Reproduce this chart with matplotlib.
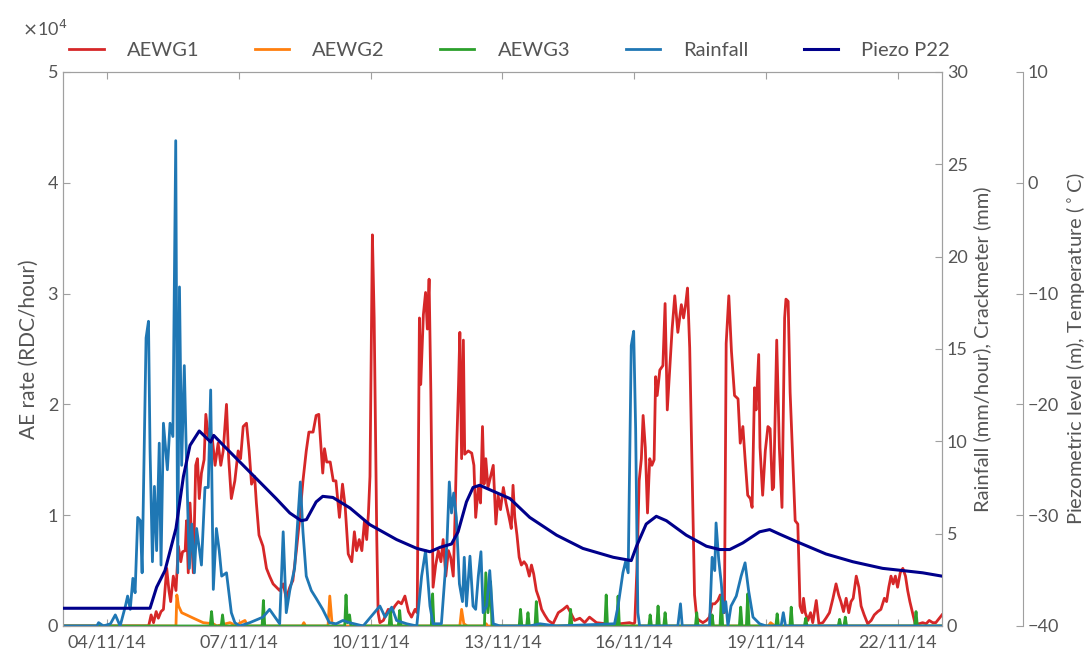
import matplotlib
matplotlib.use('Agg')
import matplotlib.pyplot as plt
import matplotlib.dates as mdates
import pandas as pd

plt.rcParams['font.family'] = ['Lato', 'DejaVu Sans']

start = pd.Timestamp('2014-11-03')

# AE rate, in units of 1e4 RDC/hour. times are days after 03/11/14 00:00
g1_days = [0, 1.945, 1.96, 2.005, 2.06, 2.12, 2.17, 2.23, 2.285, 2.36, 2.41, 2.45, 2.51, 2.57, 2.625,
           2.68, 2.72, 2.78, 2.81, 2.85, 2.89, 2.965, 3.02, 3.06, 3.10, 3.15, 3.21, 3.25, 3.305, 3.34,
           3.40, 3.46, 3.53, 3.59, 3.645, 3.72, 3.77, 3.83, 3.91, 3.985, 4.04, 4.10, 4.175, 4.235, 4.29,
           4.36, 4.40, 4.46, 4.55, 4.63, 4.70, 4.78, 4.855, 4.93, 5.01, 5.08, 5.16, 5.23, 5.31, 5.38,
           5.46, 5.535, 5.595, 5.69, 5.76, 5.82, 5.875, 5.91, 5.95, 6.00, 6.08, 6.15, 6.21, 6.29, 6.36,
           6.42, 6.49, 6.57, 6.63, 6.68, 6.74, 6.80, 6.86, 6.91, 6.95, 6.985, 7.04, 7.08, 7.14, 7.17,
           7.21, 7.29, 7.40, 7.48, 7.55, 7.63, 7.70, 7.78, 7.86, 7.93, 8.01, 8.06, 8.11, 8.14, 8.20,
           8.25, 8.29, 8.33, 8.37, 8.42, 8.48, 8.54, 8.60, 8.65, 8.71, 8.77, 8.82, 8.88, 8.92, 8.95,
           9.00, 9.03, 9.07, 9.11, 9.14, 9.22, 9.30, 9.35, 9.39, 9.45, 9.50, 9.545, 9.58, 9.62, 9.67,
           9.73, 9.79, 9.85, 9.90, 9.955, 10.02, 10.08, 10.15, 10.20, 10.24, 10.28, 10.33, 10.38, 10.43,
           10.49, 10.545, 10.61, 10.66, 10.71, 10.77, 10.83, 10.89, 10.96, 11.04, 11.15, 11.27, 11.38,
           11.47, 11.55, 11.64, 11.76, 11.87, 11.98, 12.14, 12.36, 12.52, 12.67, 12.89, 12.97, 13.01,
           13.06, 13.11, 13.16, 13.20, 13.25, 13.30, 13.35, 13.40, 13.45, 13.485, 13.52, 13.58, 13.65,
           13.70, 13.75, 13.80, 13.86, 13.92, 13.99, 14.07, 14.12, 14.17, 14.21, 14.26, 14.32, 14.37,
           14.42, 14.48, 14.56, 14.64, 14.71, 14.77, 14.83, 14.90, 14.955, 15.015, 15.05, 15.09, 15.15,
           15.21, 15.28, 15.36, 15.41, 15.47, 15.52, 15.58, 15.64, 15.68, 15.735, 15.77, 15.83, 15.86,
           15.92, 15.98, 16.04, 16.09, 16.14, 16.17, 16.24, 16.30, 16.36, 16.42, 16.45, 16.50, 16.545,
           16.61, 16.66, 16.72, 16.77, 16.82, 16.85, 16.89, 16.95, 17.01, 17.06, 17.14, 17.20, 17.29,
           17.36, 17.44, 17.52, 17.59, 17.65, 17.70, 17.76, 17.82, 17.88, 17.93, 17.98, 18.05, 18.11,
           18.16, 18.23, 18.31, 18.39, 18.46, 18.54, 18.61, 18.69, 18.74, 18.79, 18.84, 18.89, 18.94,
           18.99, 19.05, 19.11, 19.17, 19.22, 19.27, 19.33, 19.39, 19.48, 19.56, 19.64, 19.71, 19.79,
           19.86, 19.94, 20.0]
g1_vals = [0, 0, 0.02, 0.10, 0.03, 0.13, 0.07, 0.13, 0.15, 0.52, 0.32, 0.22, 0.45, 0.32, 0.72,
           0.58, 0.67, 0.68, 0.95, 0.48, 1.11, 0.48, 1.45, 1.51, 1.15, 1.38, 1.50, 1.91, 1.71, 1.78,
           1.68, 1.45, 1.65, 1.45, 1.58, 2.00, 1.51, 1.15, 1.31, 1.58, 1.51, 1.80, 1.83, 1.58, 1.28,
           1.35, 1.11, 0.82, 0.72, 0.52, 0.45, 0.38, 0.35, 0.32, 0.38, 0.25, 0.35, 0.41, 0.68, 0.95,
           1.31, 1.58, 1.75, 1.75, 1.90, 1.91, 1.58, 1.38, 1.60, 1.48, 1.48, 1.31, 1.31, 0.98, 1.28,
           1.08, 0.65, 0.58, 0.85, 0.68, 0.78, 0.68, 0.95, 0.78, 1.02, 1.35, 3.53, 2.78, 0.78, 0.12,
           0.03, 0.05, 0.15, 0.13, 0.18, 0.22, 0.20, 0.27, 0.13, 0.08, 0.15, 0.12, 2.78, 2.18, 2.81,
           3.01, 2.68, 3.13, 2.11, 0.35, 0.55, 0.68, 0.58, 0.78, 0.45, 0.68, 0.62, 0.45, 0.98, 1.51,
           2.18, 2.65, 1.51, 2.58, 1.55, 1.58, 1.56, 1.45, 0.98, 1.25, 1.11, 1.80, 1.28, 1.51, 1.25,
           1.35, 1.45, 0.92, 1.18, 1.05, 1.25, 1.11, 0.98, 0.88, 1.27, 0.98, 0.82, 0.62, 0.55,
           0.58, 0.55, 0.45, 0.55, 0.47, 0.32, 0.25, 0.15, 0.10, 0.05, 0.02, 0.12, 0.15,
           0.18, 0.12, 0.05, 0.07, 0.03, 0.08, 0.03, 0.02, 0.0, 0.02, 0.03, 0.02, 0.03,
           0.52, 1.31, 1.51, 1.90, 1.61, 1.02, 1.51, 1.45, 1.50, 2.25, 2.08, 2.31, 2.35,
           2.91, 1.95, 2.28, 2.68, 2.98, 2.65, 2.90, 2.78, 2.91, 3.05, 2.51, 1.28, 0.28,
           0.07, 0.05, 0.03, 0.05, 0.08, 0.20, 0.20, 0.23, 0.28, 0.15, 0.12, 2.55, 2.98,
           2.48, 2.08, 2.05, 1.65, 1.80, 1.51, 1.18, 1.15, 1.07, 2.15, 1.95, 2.45, 1.61,
           1.18, 1.58, 1.80, 1.78, 1.23, 1.25, 2.58, 1.61, 1.07, 2.78, 2.95, 2.93, 2.11,
           1.45, 0.95, 0.92, 0.18, 0.12, 0.25, 0.12, 0.05, 0.12, 0.03, 0.23, 0.02, 0.03,
           0.07, 0.12, 0.25, 0.38, 0.28, 0.22, 0.13, 0.25, 0.12, 0.22, 0.25, 0.45, 0.35,
           0.18, 0.10, 0.02, 0.05, 0.10, 0.13, 0.15, 0.25, 0.22, 0.35, 0.45, 0.38, 0.45,
           0.35, 0.48, 0.52, 0.45, 0.32, 0.22, 0.12, 0.02, 0.02, 0.03, 0.02, 0.05, 0.03,
           0.03, 0.07, 0.10]

g2_days = [0, 2.57, 2.59, 2.63, 2.70, 2.81, 2.97, 3.19, 3.42, 3.50, 3.80, 3.85, 3.90, 4.14, 4.20,
           5.44, 5.48, 5.52, 6.03, 6.07, 6.12, 6.20, 9.03, 9.07, 9.12, 9.20, 9.60, 9.63, 9.66,
           16.05, 16.10, 16.20, 20.0]
g2_vals = [0, 0, 0.28, 0.18, 0.12, 0.10, 0.07, 0.03, 0.02, 0, 0.03, 0.02, 0, 0.05, 0,
           0, 0.03, 0, 0, 0.27, 0.03, 0, 0, 0.15, 0.02, 0, 0, 0.02, 0,
           0, 0.03, 0, 0]

g3_days = [0, 3.35, 3.38, 3.41, 3.60, 3.63, 3.66, 4.53, 4.56, 4.59, 6.41, 6.44, 6.47, 6.52, 6.55,
           7.42, 7.45, 7.48, 7.63, 7.66, 7.69, 8.38, 8.41, 8.44, 9.59, 9.62, 9.67, 9.73, 9.76,
           10.38, 10.41, 10.44, 10.55, 10.58, 10.61, 10.74, 10.77, 10.80, 11.52, 11.55, 11.58,
           12.33, 12.36, 12.39, 12.60, 12.63, 12.66, 13.33, 13.36, 13.39, 13.51, 13.54, 13.57,
           13.67, 13.70, 13.73, 14.39, 14.42, 14.45, 14.74, 14.77, 14.80, 14.95, 14.98, 15.01,
           15.39, 15.42, 15.45, 15.55, 15.58, 15.61, 16.22, 16.25, 16.28, 16.54, 16.57, 16.60,
           16.87, 16.90, 16.93, 17.64, 17.67, 17.70, 17.77, 17.80, 17.83, 19.38, 19.41, 19.44, 20.0]
g3_vals = [0, 0, 0.13, 0, 0, 0.10, 0, 0, 0.23, 0, 0, 0.28, 0.03, 0.10, 0,
           0, 0.14, 0, 0, 0.14, 0, 0, 0.29, 0, 0, 0.48, 0.12, 0.40, 0,
           0, 0.15, 0, 0, 0.12, 0, 0, 0.22, 0, 0, 0.15, 0,
           0, 0.28, 0, 0, 0.27, 0, 0, 0.10, 0, 0, 0.18, 0,
           0, 0.12, 0, 0, 0.12, 0, 0, 0.10, 0, 0, 0.26, 0,
           0, 0.17, 0, 0, 0.29, 0, 0, 0.11, 0, 0, 0.17, 0,
           0, 0.07, 0, 0, 0.06, 0, 0, 0.08, 0, 0, 0.13, 0, 0]

# rainfall, mm/hour
rain_days = [0, 0.77, 0.81, 0.92, 1.08, 1.19, 1.30, 1.42, 1.47, 1.53, 1.59, 1.64, 1.70, 1.76, 1.80,
             1.89, 1.945, 1.98, 2.035, 2.08, 2.13, 2.19, 2.23, 2.285, 2.375, 2.435, 2.50, 2.565,
             2.61, 2.65, 2.70, 2.76, 2.81, 2.875, 2.93, 2.99, 3.04, 3.15, 3.23, 3.305, 3.36, 3.42,
             3.49, 3.555, 3.61, 3.72, 3.83, 3.91, 4.02, 4.25, 4.55, 4.70, 4.93, 5.01, 5.08, 5.16,
             5.27, 5.40, 5.46, 5.535, 5.65, 5.76, 5.91, 6.06, 6.215, 6.37, 6.52, 6.83, 7.21, 7.33,
             7.48, 7.59, 7.82, 8.05, 8.16, 8.25, 8.35, 8.42, 8.61, 8.69, 8.74, 8.79, 8.84, 8.89,
             8.95, 9.02, 9.09, 9.13, 9.18, 9.26, 9.33, 9.39, 9.45, 9.51, 9.56, 9.64, 9.71, 9.79,
             9.94, 10.62, 10.85, 11.23, 12.55, 12.63, 12.74, 12.80, 12.86, 12.93, 12.985, 13.03,
             13.08, 13.12, 13.99, 14.05, 14.09, 14.71, 14.77, 14.83, 14.86, 14.92, 14.98, 15.03,
             15.08, 15.13, 15.20, 15.32, 15.43, 15.52, 15.60, 15.70, 15.85, 16.0, 16.34, 16.39,
             16.44, 20.0]
rain_vals = [0, 0, 0.18, 0, 0.12, 0.60, 0, 1.08, 1.62, 0.90, 2.58, 1.80, 5.88, 5.70, 2.88,
             15.6, 16.5, 9.6, 3.48, 7.56, 4.08, 9.9, 3.3, 10.98, 8.46, 10.98, 10.26, 26.28,
             2.88, 18.36, 8.7, 14.1, 8.88, 3.12, 5.52, 2.88, 5.28, 3.3, 7.5, 7.5, 12.78, 1.98,
             5.28, 4.08, 2.7, 2.88, 0.72, 0.18, 0, 0.18, 0.48, 0.9, 0.12, 5.1, 0.72, 1.92,
             3.12, 7.8, 5.1, 2.7, 1.92, 1.5, 0.9, 0.18, 0.12, 0.3, 0.18, 0, 1.08, 0.48,
             1.02, 0.3, 0.12, 0, 2.7, 4.08, 1.08, 0.12, 0.12, 2.7, 4.68, 7.8, 6.12, 7.2,
             5.88, 2.28, 1.32, 3.72, 1.08, 3.78, 1.08, 0.9, 2.7, 4.02, 0.72, 1.08, 3.0, 0.12,
             0, 0, 0.12, 0, 0.12, 1.08, 2.88, 3.48, 2.88, 15.18, 15.96, 10.68,
             0.72, 0, 0, 1.2, 0, 0, 3.72, 3.0, 5.58, 3.6, 2.28, 0.72,
             1.32, 0, 1.08, 1.62, 2.7, 3.42, 1.92, 0.48, 0.12, 0, 0, 0.72,
             0, 0]

# piezometric level P22, m
piezo_days = [0, 1.98, 2.13, 2.32, 2.57, 2.74, 2.89, 3.10, 3.36, 3.43, 3.65, 3.95, 4.40, 4.85,
              5.16, 5.42, 5.54, 5.76, 5.91, 6.14, 6.53, 6.98, 7.59, 8.05, 8.35, 8.58, 8.84, 8.99,
              9.18, 9.33, 9.48, 9.71, 10.17, 10.62, 11.23, 11.83, 12.52, 12.93, 13.05, 13.27, 13.5,
              13.73, 14.18, 14.64, 14.94, 15.17, 15.47, 15.85, 16.08, 16.3, 16.76, 17.36, 17.97,
              18.65, 19.11, 19.56, 20.0]
piezo_vals = [-38.4, -38.4, -36.5, -35.0, -31.2, -26.5, -23.7, -22.4, -23.4, -22.8, -23.7, -24.9,
              -26.7, -28.5, -29.8, -30.5, -30.4, -28.8, -28.3, -28.4, -29.35, -30.85, -32.2, -33.0,
              -33.3, -32.9, -32.6, -31.5, -28.8, -27.5, -27.3, -27.7, -28.5, -30.2, -31.8, -33.0,
              -33.8, -34.1, -32.8, -30.8, -30.1, -30.5, -31.8, -32.8, -33.1, -33.1, -32.5, -31.5,
              -31.3, -31.7, -32.5, -33.5, -34.2, -34.8, -35.0, -35.2, -35.5]


def to_time(days):
    return start + pd.to_timedelta(days, unit='D')


grey = '#555555'
spine_grey = '#a0a0a0'

fig = plt.figure(figsize=(10.92, 6.52), dpi=100)
ax = fig.add_axes([0.0577, 0.0399, 0.8049, 0.8497])
ax2 = ax.twinx()
ax3 = ax.twinx()

l1, = ax.plot(to_time(g1_days), g1_vals, color='#d62728', lw=2.0, label='AEWG1')
l2, = ax.plot(to_time(g2_days), g2_vals, color='#ff7f0e', lw=2.0, label='AEWG2')
l3, = ax.plot(to_time(g3_days), g3_vals, color='#2ca02c', lw=2.0, label='AEWG3')
l4, = ax2.plot(to_time(rain_days), rain_vals, color='#1f77b4', lw=2.0, label='Rainfall')
l5, = ax3.plot(to_time(piezo_days), piezo_vals, color='#00008b', lw=2.2, label='Piezo P22')

ax.set_xlim(start, start + pd.Timedelta(days=20))
ax.set_ylim(0, 5)
ax2.set_ylim(0, 30)
ax3.set_ylim(-40, 10)

ax.xaxis.set_major_locator(mdates.DayLocator(bymonthday=range(1, 32, 3)))
ax.xaxis.set_major_formatter(mdates.DateFormatter('%d/%m/%y'))
ax.set_yticks([0, 1, 2, 3, 4, 5])
ax.set_yticklabels(['0', '1', '2', '3', '4', '5'])
ax2.set_yticks(range(0, 31, 5))
ax3.set_yticks(range(-40, 11, 10))

for a in (ax, ax2, ax3):
    for s in a.spines.values():
        s.set_color(spine_grey)
        s.set_linewidth(0.8)
    a.tick_params(colors=spine_grey, labelcolor=grey, labelsize=13, direction='in', length=5, width=0.8)

ax.tick_params(axis='x', top=True, pad=6)
ax3.spines['right'].set_position(('outward', 58))
for side in ('left', 'top', 'bottom'):
    ax3.spines[side].set_visible(False)

ax.set_ylabel('AE rate (RDC/hour)', color=grey, fontsize=15, labelpad=6)
ax2.set_ylabel('Rainfall (mm/hour), Crackmeter (mm)', color=grey, fontsize=14.5, labelpad=4)
ax3.set_ylabel('Piezometric level (m), Temperature ($^\\circ$C)', color=grey, fontsize=14.5, labelpad=4)

fig.text(0.020, 0.945, '$\\times$10$^4$', color=grey, fontsize=13)

fig.legend(handles=[l1, l2, l3, l4, l5], loc='center left', bbox_to_anchor=(0.047, 0.923),
           ncol=5, frameon=False, fontsize=14.5, handlelength=1.7, handletextpad=1.15,
           columnspacing=2.75, labelcolor=grey)

fig.savefig('out.png', dpi=100)
